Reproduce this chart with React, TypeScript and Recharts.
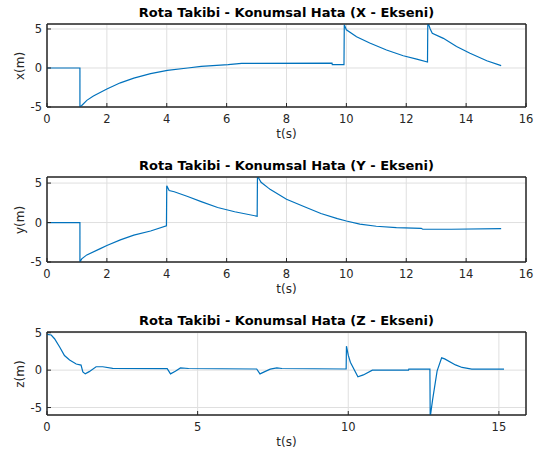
import { LineChart, Line, XAxis, YAxis, CartesianGrid, ReferenceArea } from "recharts";

const FONT = "'DejaVu Sans', sans-serif";
const INK = "#262626";
const BLUE = "#0072bd";
const GRID = "#dfdfdf";

// X ekseni konum hatası (t, değer)
const xT = [0, 1.1, 1.1, 1.16, 1.33, 1.55, 2.0, 2.45, 2.9, 3.46, 4.02, 4.7, 5.15, 6.05, 6.5, 9.52, 9.53, 9.92, 9.93, 10.0, 10.34, 10.78, 11.34, 11.9, 12.35, 12.71, 12.72, 12.8, 12.87, 13.24, 13.68, 14.13, 14.69, 15.17];
const xV = [0, 0, -5, -4.8, -4.15, -3.6, -2.7, -1.9, -1.3, -0.73, -0.3, 0, 0.2, 0.43, 0.6, 0.62, 0.42, 0.42, 5.55, 4.9, 4.0, 3.2, 2.3, 1.57, 1.14, 0.76, 5.9, 5.0, 4.45, 3.8, 2.75, 1.9, 0.93, 0.3];

// Y ekseni konum hatası
const yT = [0, 1.1, 1.1, 1.16, 1.33, 1.78, 2.0, 2.45, 2.9, 3.46, 3.99, 4.0, 4.08, 4.25, 4.7, 5.15, 5.7, 6.27, 7.02, 7.03, 7.15, 7.4, 7.45, 8.0, 8.6, 9.15, 9.7, 10.0, 10.45, 11.0, 11.67, 12.5, 12.55, 13.5, 15.17];
const yV = [0, 0, -5, -4.6, -4.1, -3.3, -2.9, -2.2, -1.6, -1.07, -0.43, 4.65, 4.06, 3.9, 3.3, 2.65, 1.9, 1.37, 0.8, 5.9, 5.1, 4.36, 4.23, 2.95, 2.0, 1.15, 0.5, 0.2, -0.2, -0.47, -0.64, -0.73, -0.85, -0.85, -0.77];

// Z ekseni konum hatası
const zT = [0, 0.14, 0.25, 0.42, 0.58, 0.75, 0.97, 1.13, 1.19, 1.27, 1.4, 1.63, 1.85, 2.18, 3.99, 4.1, 4.26, 4.43, 4.7, 6.96, 7.07, 7.23, 7.41, 7.63, 7.8, 9.93, 9.94, 10.0, 10.07, 10.32, 10.5, 10.8, 12.0, 12.01, 12.71, 12.72, 12.8, 12.95, 13.1, 13.2, 13.56, 13.78, 14.1, 15.17];
const zV = [4.77, 4.7, 4.2, 3.1, 1.95, 1.36, 0.82, 0.68, -0.23, -0.5, -0.2, 0.45, 0.45, 0.23, 0.2, -0.5, -0.15, 0.3, 0.22, 0.15, -0.5, -0.2, 0.14, 0.3, 0.22, 0.15, 3.2, 2.0, 1.05, -0.9, -0.64, 0, 0, 0.14, 0.14, -6.3, -3.95, -0.1, 1.64, 1.5, 0.7, 0.36, 0.14, 0.14];

const tTicks16 = [0, 2, 4, 6, 8, 10, 12, 14, 16];
const tTicks15 = [0, 5, 10, 15];
const vTicks = [-5, 0, 5];

const toRows = (t: number[], v: number[]) => t.map((tt, i) => ({ t: tt, v: v[i] }));

const tickStyle = { fontSize: 11.5, fill: INK, fontFamily: FONT };

type PanelProps = {
  top: number;
  height: number;
  plotTop: number;
  plotBottom: number;
  rows: { t: number; v: number }[];
  xDomain: [number, number];
  xTicks: number[];
  yDomain: [number, number];
  title: string;
  yLabel: string;
};

function Panel({ top, height, plotTop, plotBottom, rows, xDomain, xTicks, yDomain, title, yLabel }: PanelProps) {
  const axisH = top + height - plotBottom;
  const mid = (plotTop + plotBottom) / 2;
  return (
    <>
      <div style={{ position: "absolute", top: top, left: 0 }}>
        <LineChart width={540} height={height} data={rows} margin={{ top: plotTop - top - 1, right: 13, left: 0, bottom: 0 }}>
          <CartesianGrid stroke={GRID} xAxisId={0} yAxisId={0} />
          {/* MATLAB tarzı: tikler içe dönük (negatif tickSize) */}
          <XAxis xAxisId={0} type="number" dataKey="t" domain={xDomain} ticks={xTicks} allowDataOverflow height={axisH}
            tick={tickStyle} tickLine={{ stroke: INK }} axisLine={{ stroke: INK }} tickSize={-4} tickMargin={12} />
          <YAxis yAxisId={0} type="number" domain={yDomain} ticks={vTicks} allowDataOverflow width={47}
            tick={tickStyle} tickLine={{ stroke: INK }} axisLine={{ stroke: INK }} tickSize={-4} tickMargin={9} />
          {/* kutunun üst ve sağ kenarındaki tikler */}
          <XAxis xAxisId="top" type="number" dataKey="t" domain={xDomain} ticks={xTicks} allowDataOverflow
            orientation="top" height={1} tick={false} axisLine={{ stroke: INK }} tickLine={{ stroke: INK }} tickSize={-4} />
          <YAxis yAxisId="right" type="number" domain={yDomain} ticks={vTicks} allowDataOverflow
            orientation="right" width={1} tick={false} axisLine={{ stroke: INK }} tickLine={{ stroke: INK }} tickSize={-4} />
          <ReferenceArea xAxisId={0} yAxisId={0} x1={xDomain[0]} x2={xDomain[1]} y1={yDomain[0]} y2={yDomain[1]}
            fill="none" fillOpacity={0} stroke={INK} strokeWidth={1} ifOverflow="visible" />
          <Line xAxisId={0} yAxisId={0} type="linear" dataKey="v" stroke={BLUE} strokeWidth={1.2} dot={false} isAnimationActive={false} />
        </LineChart>
      </div>
      <div style={{ position: "absolute", left: 47, width: 479, top: plotTop - 11 - 8, height: 16, lineHeight: "16px",
        textAlign: "center", fontFamily: FONT, fontWeight: "bold", fontSize: 13, color: "#000" }}>
        {title}
      </div>
      <div style={{ position: "absolute", left: 47, width: 479, top: plotBottom + 27 - 8, height: 16, lineHeight: "16px",
        textAlign: "center", fontFamily: FONT, fontSize: 12, color: INK }}>
        t(s)
      </div>
      <div style={{ position: "absolute", left: 20, top: mid, transform: "translate(-50%, -50%) rotate(-90deg)",
        lineHeight: "16px", whiteSpace: "nowrap", fontFamily: FONT, fontSize: 12, color: INK }}>
        {yLabel}
      </div>
    </>
  );
}

export default function App() {
  return (
    <div style={{ position: "absolute", left: 0, top: 0, width: 540, height: 453, background: "#fff" }}>
      <Panel top={0} height={150} plotTop={24} plotBottom={107} rows={toRows(xT, xV)}
        xDomain={[0, 16]} xTicks={tTicks16} yDomain={[-5, 5.64]}
        title="Rota Takibi - Konumsal Hata (X - Ekseni)" yLabel="x(m)" />
      <Panel top={150} height={150} plotTop={177} plotBottom={262} rows={toRows(yT, yV)}
        xDomain={[0, 16]} xTicks={tTicks16} yDomain={[-5, 5.77]}
        title="Rota Takibi - Konumsal Hata (Y - Ekseni)" yLabel="y(m)" />
      <Panel top={300} height={153} plotTop={332} plotBottom={415} rows={toRows(zT, zV)}
        xDomain={[0, 15.9]} xTicks={tTicks15} yDomain={[-6, 5.1]}
        title="Rota Takibi - Konumsal Hata (Z - Ekseni)" yLabel="z(m)" />
    </div>
  );
}
